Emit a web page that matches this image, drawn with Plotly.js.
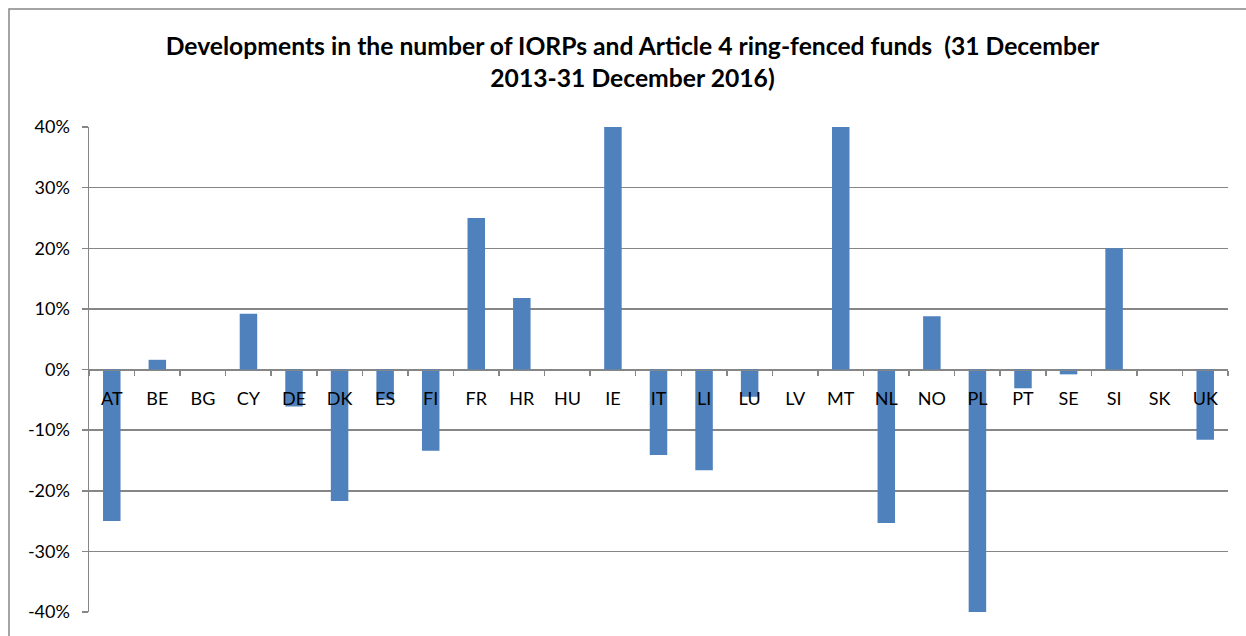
<!DOCTYPE html>
<html>
<head>
<meta charset="utf-8">
<script src="https://cdn.plot.ly/plotly-3.0.1.min.js"></script>
<style>
html,body{margin:0;padding:0;background:#fff;}
#chart{width:1246px;height:636px;}
</style>
</head>
<body>
<div id="chart"></div>
<script>
const countries = ["AT","BE","BG","CY","DE","DK","ES","FI","FR","HR","HU","IE","IT","LI","LU","LV","MT","NL","NO","PL","PT","SE","SI","SK","UK"];
const changePct = [-25, 1.6, 0, 9.2, -6.1, -21.7, -5, -13.4, 25, 11.8, 0, 60, -14.1, -16.6, -4.5, 0, 60, -25.3, 8.8, -50, -3.1, -0.8, 20, 0, -11.6];
const yTickVals = [-40, -30, -20, -10, 0, 10, 20, 30, 40];
const yTickText = ["-40%", "-30%", "-20%", "-10%", "0%", "10%", "20%", "30%", "40%"];
const titleText = "Developments in the number of IORPs and Article 4 ring-fenced funds  (31 December<br>2013-31 December 2016)";

const W = 1246, H = 636;
const mL = 89, mR = 18, mT = 127, mB = 23.5;
const pw = W - mL - mR, ph = H - mT - mB;

const trace = {
  type: 'bar',
  x: countries,
  y: changePct,
  marker: {color: '#4F81BD', line: {width: 0}},
  hoverinfo: 'x+y'
};

const gray = '#868686';
const layout = {
  width: W, height: H,
  margin: {l: mL, r: mR, t: mT, b: mB, pad: 0},
  paper_bgcolor: '#ffffff',
  plot_bgcolor: '#ffffff',
  showlegend: false,
  bargap: 0.616,
  font: {family: 'Lato, "Liberation Sans", sans-serif', size: 18, color: '#000'},
  title: {
    text: titleText,
    font: {family: 'Lato, "Liberation Sans", sans-serif', size: 24.7, color: '#000', weight: 'bold'},
    xref: 'paper', x: (632.5 - mL) / pw, xanchor: 'center',
    yref: 'container', y: 1 - 55 / H, yanchor: 'top',
    automargin: false
  },
  xaxis: {
    type: 'category',
    anchor: 'free', position: 0.5,
    showline: true, linecolor: gray, linewidth: 1.5,
    ticks: 'outside', tickson: 'boundaries', ticklen: 5, tickcolor: gray, tickwidth: 1.5,
    showgrid: false, zeroline: false,
    tickfont: {size: 18, color: '#000'},
    ticklabelstandoff: 12,
    fixedrange: true
  },
  yaxis: {
    range: [-40, 40],
    tickvals: yTickVals, ticktext: yTickText,
    showline: true, linecolor: gray, linewidth: 1.5,
    ticks: 'outside', ticklen: 6, tickcolor: gray, tickwidth: 1.5,
    showgrid: true, gridcolor: gray, gridwidth: 1.5,
    zeroline: false,
    tickfont: {size: 18, color: '#000'},
    ticklabelstandoff: 8,
    fixedrange: true
  },
  shapes: [{
    type: 'rect', xref: 'paper', yref: 'paper',
    x0: (9 - mL) / pw, x1: 1.2,
    y0: -0.2, y1: (H - mB - 9) / ph,
    line: {color: '#868686', width: 1.5},
    fillcolor: 'rgba(0,0,0,0)',
    layer: 'below'
  }]
};

Plotly.newPlot('chart', [trace], layout, {displayModeBar: false, staticPlot: true});
</script>
</body>
</html>
